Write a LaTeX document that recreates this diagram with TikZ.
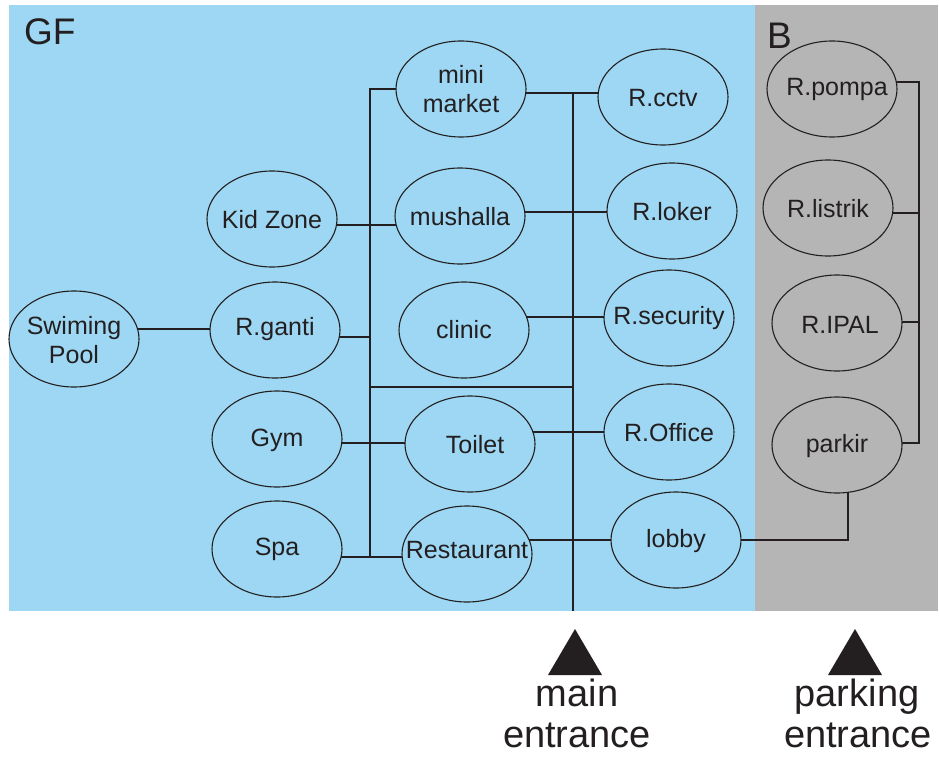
\documentclass[tikz,border=0pt]{standalone}
\usepackage{fontspec}
\setmainfont{Liberation Sans}
\usetikzlibrary{shapes.geometric}
\definecolor{bgblue}{RGB}{157,215,243}
\definecolor{bggray}{RGB}{181,181,181}
\definecolor{ink}{RGB}{35,31,32}
% #1 = baseline of last line below node centre (pt), #2 = text
\newcommand{\nbx}[2]{\makebox[0pt]{\raisebox{-#1pt}[0pt][0pt]{\begin{tabular}[b]{@{}c@{}}#2\end{tabular}}}}
\pgfdeclarelayer{bglayer}
\pgfdeclarelayer{wires}
\pgfsetlayers{bglayer,wires,main}
\begin{document}
\begin{tikzpicture}[x=1pt,y=-1pt,
  room/.style={ellipse, draw=ink, line width=1.1pt, fill=bgblue,
    minimum width=130pt, minimum height=96pt, inner sep=0pt, text=ink,
    font=\fontsize{25}{29}\selectfont},
  broom/.style={room, fill=bggray},
  link/.style={draw=ink, line width=1.1pt},
  big/.style={text=ink, inner sep=0pt, font=\fontsize{38}{42}\selectfont}]
\useasboundingbox (0,0) rectangle (939,757);
\begin{pgfonlayer}{bglayer}
\fill[white] (0,0) rectangle (939,757);
\fill[bgblue] (9,5) rectangle (755,611);
\fill[bggray] (755,5) rectangle (938,611);
\end{pgfonlayer}

\node[big, anchor=base west, font=\fontsize{37}{44}\selectfont] (gf) at (24,45) {GF};
\node[big, anchor=base west, font=\fontsize{37}{44}\selectfont] (b) at (767,49) {B};

\node[room] (pool) at (74,339) {\nbx{24}{Swiming\\Pool}};
\node[room] (ganti) at (275,330) {\nbx{5}{R.ganti}};
\node[room] (kid) at (272,219) {\nbx{9}{Kid Zone}};
\node[room] (gym) at (277,439) {\nbx{7}{Gym}};
\node[room] (spa) at (277,549) {\nbx{6}{Spa}};
\node[room] (mini) at (461,89) {\nbx{24}{mini\\market}};
\node[room] (mush) at (460,216) {\nbx{9}{mushalla}};
\node[room] (clinic) at (464,330) {\nbx{8}{clinic}};
\node[room] (toilet) at (470,444) {\nbx{9}{\hspace*{10pt}Toilet}};
\node[room] (rest) at (467,554) {\nbx{4}{Restaurant}};
\node[room] (cctv) at (663,97) {\nbx{10}{R.cctv}};
\node[room] (loker) at (672,211) {\nbx{9}{R.loker}};
\node[room] (secu) at (669,318) {\nbx{6}{R.security}};
\node[room] (office) at (669,432) {\nbx{9}{R.Office}};
\node[room] (lobby) at (676,540) {\nbx{7}{lobby}};
\node[broom] (pompa) at (832,89) {\nbx{6}{\hspace*{10pt}R.pompa}};
\node[broom] (listrik) at (828,208) {\nbx{9}{R.listrik}};
\node[broom] (ipal) at (837,323) {\nbx{10}{\hspace*{6pt}R.IPAL}};
\node[broom] (parkir) at (837,445) {\nbx{7}{parkir}};

\coordinate (lbus1) at (370,89);
\coordinate (lbus2) at (370,557);
\coordinate (mbus1) at (573,93);
\coordinate (mbus2) at (573,611);
\coordinate (rbus1) at (919,82);
\coordinate (rbus2) at (919,443);
\coordinate (pk) at (848,540);

\begin{pgfonlayer}{wires}
\draw[link] (ganti |- 0,329) -- (pool |- 0,329);
\draw[link] (kid |- 0,225) -- (mush |- 0,225);
\draw[link] (mini |- lbus1) -- (lbus1) -- (lbus2);
\draw[link] (ganti |- 0,337) -- (lbus1 |- 0,337);
\draw[link] (gym |- 0,443) -- (toilet |- 0,443);
\draw[link] (spa |- lbus2) -- (rest |- lbus2);
\draw[link] (lbus1 |- 0,387) -- (mbus1 |- 0,387);
\draw[link] (mbus1) -- (mbus2);
\draw[link] (mini |- mbus1) -- (cctv |- mbus1);
\draw[link] (mush |- 0,212) -- (loker |- 0,212);
\draw[link] (clinic |- 0,317) -- (secu |- 0,317);
\draw[link] (toilet |- 0,432) -- (office |- 0,432);
\draw[link] (rest |- pk) -- (lobby |- pk);
\draw[link] (lobby |- pk) -- (pk) -- (pk |- parkir);
\draw[link] (pompa |- rbus1) -- (rbus1) -- (rbus2) -- (parkir |- rbus2);
\draw[link] (listrik |- 0,213) -- (rbus1 |- 0,213);
\draw[link] (ipal |- 0,322) -- (rbus1 |- 0,322);
\end{pgfonlayer}

\fill[ink] (548,675) -- (602,675) -- (575,629) -- cycle;
\fill[ink] (828,675) -- (882,675) -- (855,629) -- cycle;
\node[big, anchor=base] (m1) at (577,706) {main};
\node[big, anchor=base] (m2) at (577,747) {entrance};
\node[big, anchor=base] (p1) at (857,706) {parking};
\node[big, anchor=base] (p2) at (858,747) {entrance};
\end{tikzpicture}
\end{document}
